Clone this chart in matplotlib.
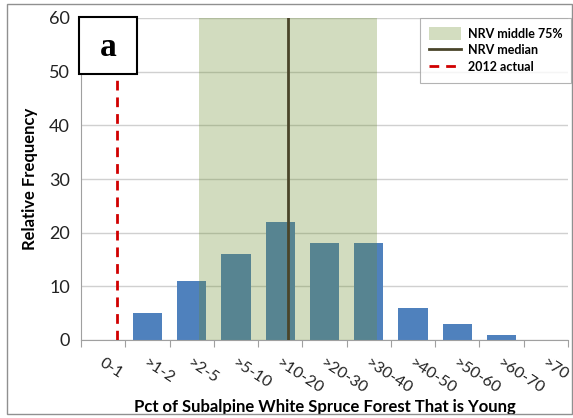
import matplotlib.pyplot as plt
from matplotlib.patches import Rectangle
from matplotlib.lines import Line2D
from matplotlib.patches import Patch

categories = ["0-1", ">1-2", ">2-5", ">5-10", ">10-20", ">20-30",
              ">30-40", ">40-50", ">50-60", ">60-70", ">70"]
frequency = [0, 5, 11, 16, 22, 18, 18, 6, 3, 1, 0]

# NRV range and markers, in category-index units
nrv_low, nrv_high = 2.16, 6.18
nrv_median = 4.17
actual_2012 = 0.31

plt.rcParams["font.family"] = ["Lato", "DejaVu Sans"]

fig = plt.figure(figsize=(5.73, 4.18), dpi=100)
ax = fig.add_axes([81 / 573, 1 - 340 / 418, 487 / 573, 322 / 418])

x = list(range(len(categories)))
ax.bar(x, frequency, width=0.66, color="#4F81BD", zorder=2)
ax.axvspan(nrv_low, nrv_high, color=(108 / 255, 142 / 255, 45 / 255),
           alpha=0.3, lw=0, zorder=3)
ax.axvline(nrv_median, color="#4A452A", lw=2, zorder=4)
ax.axvline(actual_2012, color="#D00000", lw=2, ls=(0, (3.5, 2.5)), zorder=4)

ax.set_xlim(-0.5, len(categories) - 0.5)
ax.set_ylim(0, 60)
ax.set_yticks(range(0, 61, 10))
ax.yaxis.grid(True, color="#D0D0D0", lw=1, zorder=0)
ax.set_axisbelow(True)

# major ticks sit between categories, labels on (slightly shifted) minor ticks
ax.set_xticks([i - 0.5 for i in range(len(categories) + 1)], minor=False)
ax.set_xticklabels([])
ax.set_xticks([i - 0.15 for i in x], minor=True)
ax.set_xticklabels(categories, minor=True, rotation=-33, ha="left",
                   va="top", fontsize=11.5, color="#222222")
ax.tick_params(axis="x", which="major", length=5, color="#A0A0A0")
ax.tick_params(axis="x", which="minor", length=0, pad=11)
ax.tick_params(axis="y", length=0, labelsize=13, colors="#222222", pad=8)

for side in ["top", "right"]:
    ax.spines[side].set_visible(False)
ax.spines["left"].set_color("#A0A0A0")
ax.spines["bottom"].set_color("#A0A0A0")

ax.set_ylabel("Relative Frequency", fontsize=12, fontweight="bold", labelpad=8)
ax.set_xlabel("Pct of Subalpine White Spruce Forest That is Young",
              fontsize=12, fontweight="bold")
ax.xaxis.set_label_coords(0.5, (340 - 399) / 322)

# panel letter box
fig.patches.append(Rectangle((79 / 573, 1 - 74 / 418), 58 / 573, 57 / 418,
                             transform=fig.transFigure, facecolor="white",
                             edgecolor="black", lw=1.5, zorder=10))
fig.text(108 / 573, 1 - 47 / 418, "a", fontsize=24, fontweight="bold",
         family="Liberation Serif", ha="center", va="center", zorder=11)

handles = [
    Patch(facecolor="#D3DDC0", edgecolor="none", label="NRV middle 75%"),
    Line2D([], [], color="#4A452A", lw=2, label="NRV median"),
    Line2D([], [], color="#D00000", lw=2, ls=(0, (3.5, 2.5)), label="2012 actual"),
]
leg = ax.legend(handles=handles, loc="upper right", bbox_to_anchor=(1.006, 1.0),
                borderaxespad=0, frameon=True, fancybox=False,
                prop={"weight": "bold", "size": 9}, borderpad=0.7,
                handlelength=2.6, handleheight=1.3, labelspacing=0.25,
                handletextpad=0.5)
leg.get_frame().set_edgecolor("#A0A0A0")
leg.get_frame().set_linewidth(0.8)

# outer frame
fig.patches.append(Rectangle((7 / 573, 4 / 418), 565 / 573, 410 / 418,
                             transform=fig.transFigure, fill=False,
                             edgecolor="#909090", lw=1))

fig.savefig("out.png", dpi=100)
